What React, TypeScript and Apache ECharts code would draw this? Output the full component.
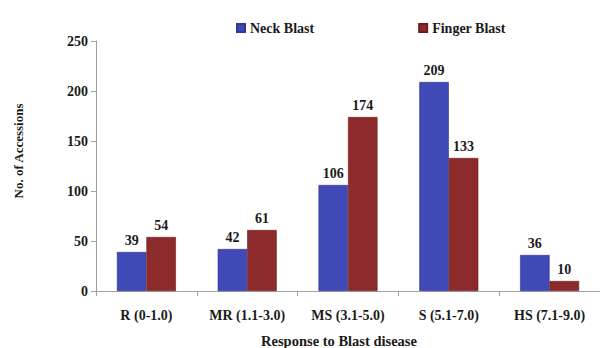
import React, { useEffect, useRef } from "react";
import * as echarts from "echarts";

const categories = ["R (0-1.0)", "MR (1.1-3.0)", "MS (3.1-5.0)", "S (5.1-7.0)", "HS (7.1-9.0)"];
const neckBlast = [39, 42, 106, 209, 36];
const fingerBlast = [54, 61, 174, 133, 10];
const seriesNames = ["Neck Blast", "Finger Blast"];

const FONT = "'Liberation Serif', 'Times New Roman', serif";
const TEXT = "#1a1a1a";

export default function App() {
  const ref = useRef<HTMLDivElement>(null);

  useEffect(() => {
    document.body.style.margin = "0";
    if (!ref.current) return;
    const chart = echarts.init(ref.current, undefined, { renderer: "svg" });

    const labelStyle = {
      show: true,
      position: "top" as const,
      distance: 5,
      fontFamily: FONT,
      fontWeight: "bold" as const,
      fontSize: 14,
      color: TEXT,
    };

    chart.setOption({
      animation: false,
      backgroundColor: "#ffffff",
      grid: { left: 96, right: -11, top: 41, bottom: 57, containLabel: false },
      legend: {
        top: 16,
        left: 231,
        icon: "rect",
        itemWidth: 8,
        itemHeight: 8,
        itemGap: 104,
        textStyle: { fontFamily: FONT, fontWeight: "bold", fontSize: 14, color: TEXT },
        data: seriesNames,
      },
      xAxis: {
        type: "category",
        data: categories,
        axisLine: { lineStyle: { color: "#a0a0a0" } },
        axisTick: { show: true, length: 5, lineStyle: { color: "#a0a0a0" } },
        axisLabel: {
          fontFamily: FONT,
          fontWeight: "bold",
          fontSize: 14,
          color: TEXT,
          margin: 17,
        },
      },
      yAxis: {
        type: "value",
        min: 0,
        max: 250,
        interval: 50,
        splitLine: { show: false },
        axisLine: { show: true, lineStyle: { color: "#a0a0a0" } },
        axisTick: { show: true, length: 5, lineStyle: { color: "#a0a0a0" } },
        axisLabel: {
          fontFamily: FONT,
          fontWeight: "bold",
          fontSize: 14,
          color: TEXT,
          margin: 8,
        },
      },
      graphic: [
        {
          type: "text",
          x: 18,
          y: 151,
          rotation: Math.PI / 2,
          style: {
            text: "No. of Accessions",
            fontFamily: FONT,
            fontWeight: "bold",
            fontSize: 13,
            fill: TEXT,
            align: "center",
            verticalAlign: "middle",
          },
        },
        {
          type: "text",
          x: 339,
          y: 341,
          style: {
            text: "Response to Blast disease",
            fontFamily: FONT,
            fontWeight: "bold",
            fontSize: 14.5,
            fill: TEXT,
            align: "center",
            verticalAlign: "middle",
          },
        },
      ],
      series: [
        {
          name: seriesNames[0],
          type: "bar",
          data: neckBlast,
          barWidth: 29.5,
          barGap: "0%",
          itemStyle: { color: "#3f4ab6", borderColor: "#2f3790", borderWidth: 0.6 },
          label: labelStyle,
        },
        {
          name: seriesNames[1],
          type: "bar",
          data: fingerBlast,
          barWidth: 29.5,
          barGap: "0%",
          itemStyle: { color: "#8c2a2c", borderColor: "#6a1c1e", borderWidth: 0.6 },
          label: labelStyle,
        },
      ],
    });

    return () => chart.dispose();
  }, []);

  return <div ref={ref} style={{ width: 600, height: 348 }} />;
}
